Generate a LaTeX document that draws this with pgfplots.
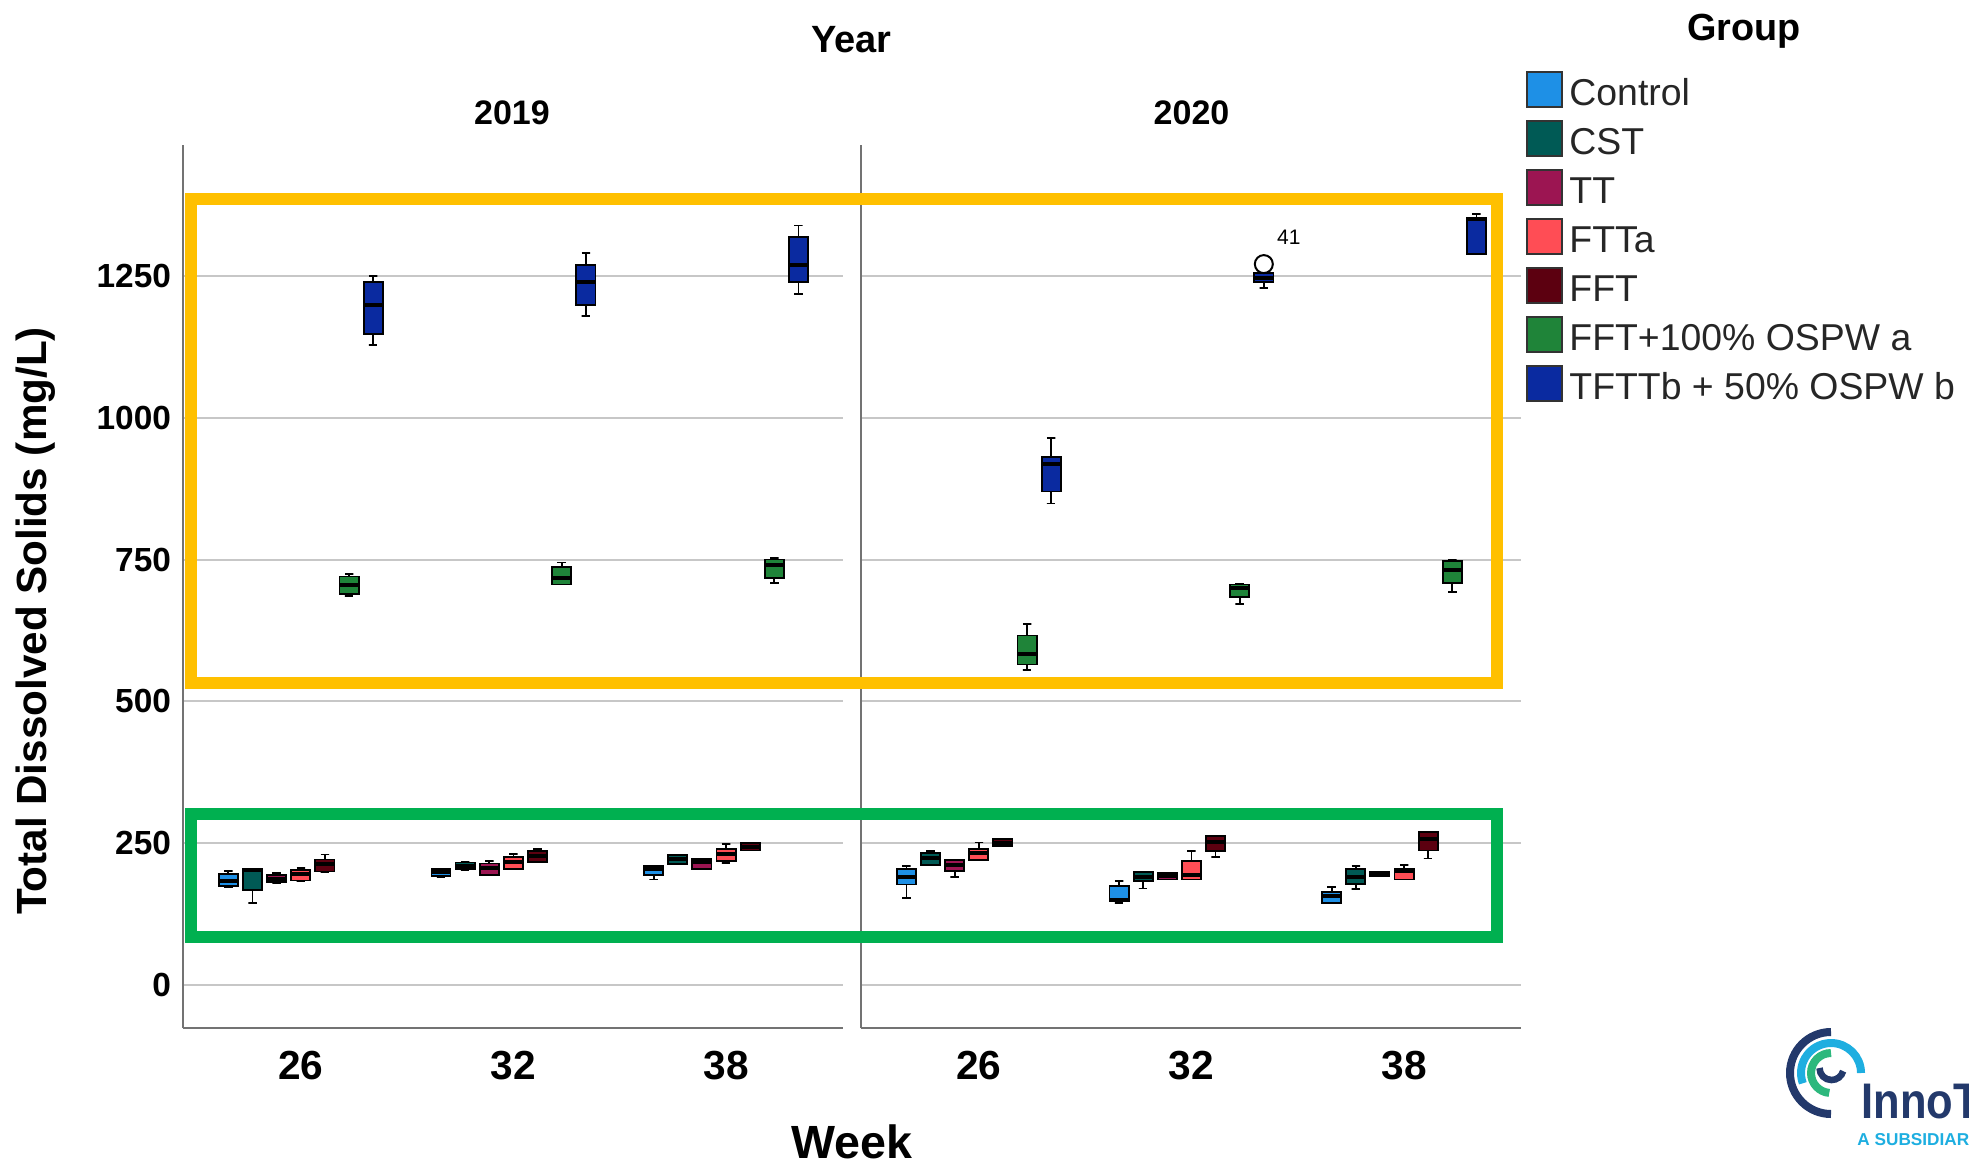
\documentclass[border=0pt]{standalone}
\usepackage{fontspec}
\setmainfont{Liberation Sans}
\usepackage{pgfplots}
\pgfplotsset{compat=1.18}
\definecolor{cControl}{HTML}{1E90E6}
\definecolor{cCST}{HTML}{005A55}
\definecolor{cTT}{HTML}{9C1552}
\definecolor{cFTTa}{HTML}{FF4D55}
\definecolor{cFFT}{HTML}{5C0010}
\definecolor{cGreen}{HTML}{1F8439}
\definecolor{cBlue}{HTML}{0A2AA0}
\definecolor{hlYellow}{HTML}{FFC000}
\definecolor{hlGreen}{HTML}{00B050}
\definecolor{logoNavy}{HTML}{23396B}
\definecolor{logoBlue}{HTML}{1EAEE0}
\definecolor{logoGreen}{HTML}{2DB87D}
\pgfplotsset{
  panel/.style={
    scale only axis, width=330pt, height=441.5pt,
    xmin=-0.554, xmax=2.55, ymin=-76, ymax=1481,
    axis x line*=bottom, axis y line*=left,
    axis line style={draw=black!55, line width=1pt},
    xtick={0,1,2}, xticklabels={26,32,38},
    ytick={0,250,500,750,1000,1250},
    yticklabels={0,250,500,750,1000,1250},
    ymajorgrids, grid style={draw=black!22, line width=1pt},
    tick style={draw=none},
    yticklabel style={font=\fontsize{16.7}{18}\selectfont\bfseries, xshift=-2.5pt},
    xticklabel style={font=\fontsize{20.3}{22}\selectfont\bfseries, yshift=-8pt},
  },
}
% one box: #1 position, #2 colour, #3 lower whisker, #4 lower quartile, #5 median, #6 upper quartile, #7 upper whisker
\newcommand{\bx}[7]{%
  \pgfmathsetmacro\bxl{#1-0.045}%
  \pgfmathsetmacro\bxr{#1+0.045}%
  \pgfmathsetmacro\cxl{#1-0.02}%
  \pgfmathsetmacro\cxr{#1+0.02}%
  \edef\bxcmd{%
    \noexpand\addplot[draw=black, line width=0.9pt] coordinates {(\cxl,#7) (\cxr,#7) (#1,#7) (#1,#3) (\cxl,#3) (\cxr,#3)};
    \noexpand\addplot[draw=black, line width=0.9pt, fill=#2] coordinates {(\bxl,#4) (\bxr,#4) (\bxr,#6) (\bxl,#6)} --cycle;
    \noexpand\addplot[draw=black, line width=2pt] coordinates {(\bxl,#5) (\bxr,#5)};
  }\bxcmd}
\begin{document}
\begin{tikzpicture}
% ---------------- 2019 ----------------
\begin{axis}[panel, at={(91.5pt,-514pt)}, anchor=south west]
% week 26
\bx{-0.3405}{cControl}{173}{174}{183}{196}{201}
\bx{-0.227}{cCST}{144}{168}{202}{204}{205}
\bx{-0.1135}{cTT}{180}{181}{187}{194}{197}
\bx{0}{cFTTa}{183}{184}{195}{202}{206}
\bx{0.1135}{cFFT}{199}{200}{213}{221}{230}
\bx{0.227}{cGreen}{686}{689}{706}{720}{724}
\bx{0.3405}{cBlue}{1129}{1148}{1199}{1240}{1250}
% week 32
\bx{0.6595}{cControl}{190}{192}{199}{204}{205}
\bx{0.773}{cCST}{203}{204}{210}{216}{217}
\bx{0.8865}{cTT}{193}{194}{206}{214}{219}
\bx{1}{cFTTa}{205}{205}{217}{225}{231}
\bx{1.1135}{cFFT}{217}{217}{228}{236}{239}
\bx{1.227}{cGreen}{706}{706}{718}{737}{745}
\bx{1.3405}{cBlue}{1179}{1199}{1240}{1270}{1290}
% week 38
\bx{1.6595}{cControl}{186}{194}{204}{209}{210}
\bx{1.773}{cCST}{213}{213}{222}{229}{230}
\bx{1.8865}{cTT}{205}{205}{216}{222}{223}
\bx{2}{cFTTa}{215}{219}{231}{239}{248}
\bx{2.1135}{cFFT}{237}{237}{244}{250}{251}
\bx{2.227}{cGreen}{708}{718}{740}{750}{753}
\bx{2.3405}{cBlue}{1218}{1239}{1270}{1319}{1339}
\end{axis}
% ---------------- 2020 ----------------
\begin{axis}[panel, at={(430.5pt,-514pt)}, anchor=south west, yticklabels={}]
% week 26
\bx{-0.3405}{cControl}{153}{177}{191}{205}{209}
\bx{-0.227}{cCST}{211}{211}{224}{233}{236}
\bx{-0.1135}{cTT}{190}{201}{211}{220}{221}
\bx{0}{cFTTa}{220}{220}{232}{239}{251}
\bx{0.1135}{cFFT}{245}{245}{251}{257}{258}
\bx{0.227}{cGreen}{555}{565}{584}{616}{637}
\bx{0.3405}{cBlue}{849}{870}{919}{931}{964}
% week 32
\bx{0.6595}{cControl}{145}{147}{150}{174}{183}
\bx{0.773}{cCST}{170}{183}{191}{199}{200}
\bx{0.8865}{cTT}{186}{186}{192}{198}{198}
\bx{1}{cFTTa}{186}{186}{194}{218}{236}
\bx{1.1135}{cFFT}{225}{236}{252}{262}{262}
\bx{1.227}{cGreen}{672}{684}{699}{706}{707}
\bx{1.3405}{cBlue}{1229}{1239}{1246}{1255}{1256}
\addplot[only marks, mark=*, mark size=4.5pt, mark options={draw=black, fill=white, line width=1pt}] coordinates {(1.3405,1271)};
\node[font=\fontsize{10.5}{12}\selectfont] at (axis cs:1.458,1319) {41};
% week 38
\bx{1.6595}{cControl}{144}{144}{157}{164}{172}
\bx{1.773}{cCST}{169}{178}{191}{205}{209}
\bx{1.8865}{cTT}{191}{191}{195}{199}{199}
\bx{2}{cFTTa}{186}{186}{200}{205}{211}
\bx{2.1135}{cFFT}{223}{237}{257}{269}{269}
\bx{2.227}{cGreen}{693}{709}{732}{747}{750}
\bx{2.3405}{cBlue}{1289}{1289}{1350}{1352}{1360}
\end{axis}
\begin{scope}[x=0.5pt,y=-0.5pt]
% titles
\node[font=\fontsize{19}{22}\selectfont\bfseries] at (851.5,40) {Year};
\node[font=\fontsize{17}{20}\selectfont\bfseries] at (512,113) {2019};
\node[font=\fontsize{17}{20}\selectfont\bfseries] at (1191.5,113) {2020};
\node[font=\fontsize{23.3}{26}\selectfont\bfseries] at (852,1142) {Week};
\node[font=\fontsize{21.1}{24}\selectfont\bfseries, rotate=90] at (36,621) {Total Dissolved Solids (mg/L)};
% highlight boxes
\draw[hlYellow, line width=6pt] (190.5,198.5) rectangle (1497,683);
\draw[hlGreen, line width=6pt] (191,814) rectangle (1497,937);
% legend
\node[font=\fontsize{18.9}{22}\selectfont\bfseries] at (1744,31) {Group};
\foreach \c/\t [count=\i from 0] in {cControl/Control, cCST/CST, cTT/TT, cFTTa/FTTa, cFFT/FFT, cGreen/FFT+100\% OSPW a, cBlue/TFTTb + 50\% OSPW b}{
  \draw[fill=\c, draw=black!80, line width=1.2pt] (1527,{89.5+49*\i-17.5}) rectangle (1562,{89.5+49*\i+17.5});
  \node[anchor=west, inner sep=0pt, text=black!85, font=\fontsize{18.7}{22}\selectfont] at (1569,{92.5+49*\i}) {\t};
}
\end{scope}
% logo (partly outside the picture, as in the reference)
\begin{scope}
\clip (0pt,0pt) rectangle (984.5pt,-583.5pt);
\begin{scope}[x=0.5pt,y=-0.5pt]
\draw[logoNavy, line width=4pt] (1831,1032) arc[start angle=90, end angle=270, radius=20.5pt];
\draw[logoBlue, line width=4pt] (1861,1073) arc[start angle=0, end angle=200, radius=15pt];
\draw[logoGreen, line width=4pt] (1831,1053) arc[start angle=90, end angle=265, radius=10pt];
\draw[logoNavy, line width=3.3pt] (1819.5,1068) arc[start angle=180, end angle=345, radius=6pt];
\node[anchor=base west, inner sep=0pt, text=logoNavy, xscale=0.87, font=\fontsize{25}{30}\selectfont\bfseries] at (1861,1118) {InnoT};
\node[anchor=base west, inner sep=0pt, text=logoBlue, font=\fontsize{8.6}{10}\selectfont\bfseries] at (1857,1145) {A SUBSIDIAR};
\end{scope}
\end{scope}
\pgfresetboundingbox
\path[use as bounding box] (0pt,0pt) rectangle (984.5pt,-583.5pt);
\end{tikzpicture}
\end{document}
